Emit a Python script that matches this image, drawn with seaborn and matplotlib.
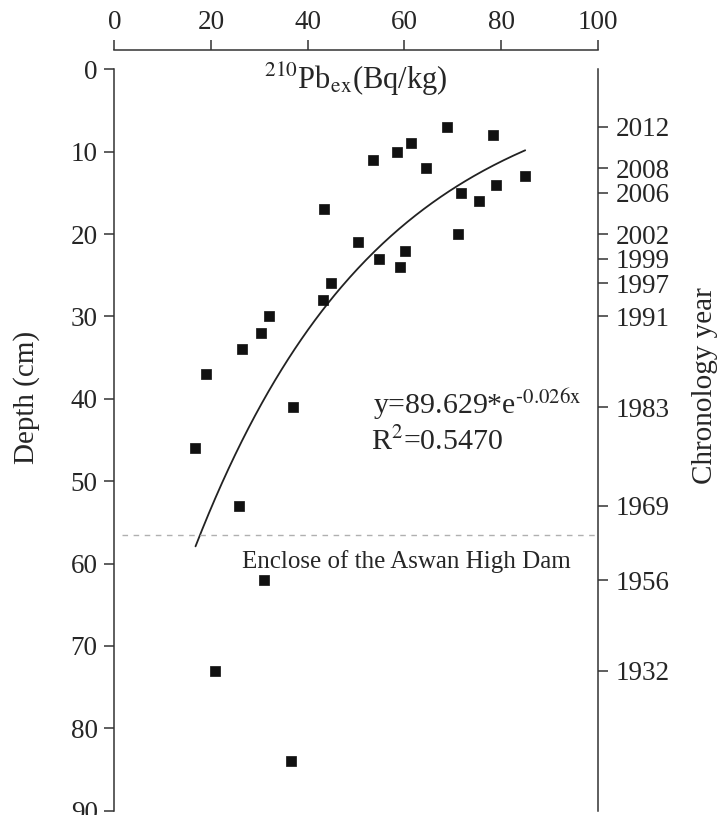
import numpy as np
import pandas as pd
import seaborn as sns
import matplotlib.pyplot as plt

sns.set_style('white')
plt.rcParams['font.family'] = ['Liberation Serif', 'DejaVu Serif']
plt.rcParams['mathtext.fontset'] = 'stix'

# 210Pb_ex activity (Bq/kg) and depth (cm)
pb_ex = [68.9, 78.3, 61.4, 58.5, 53.6, 64.5, 84.9, 79.0, 71.7, 75.5, 43.4, 71.2, 50.4, 60.2,
         54.7, 59.0, 44.9, 43.2, 31.9, 30.3, 26.5, 19.0, 36.9, 16.6, 25.8, 30.9, 20.9, 36.5]
depth = [7, 8, 9, 10, 11, 12, 13, 14, 15, 16, 17, 20, 21, 22,
         23, 24, 26, 28, 30, 32, 34, 37, 41, 46, 53, 62, 73, 84]

# exponential fit shown on the chart
fit_a = 89.629
fit_b = -0.026
fit_xmin, fit_xmax = 16.8, 85.0

# chronology on right axis
year_depth = [7, 12, 15, 20, 23, 26, 30, 41, 53, 62, 73]
year_label = ['2012', '2008', '2006', '2002', '1999', '1997', '1991', '1983', '1969', '1956', '1932']

dam_depth = 56.5

df = pd.DataFrame({'pb': pb_ex, 'depth': depth})
fx = np.linspace(fit_xmin, fit_xmax, 200)
fit = pd.DataFrame({'pb': fx, 'depth': fit_a * np.exp(fit_b * fx)})

fig = plt.figure(figsize=(7.22, 8.15), dpi=100)
ax = fig.add_axes([114.3/722, 1-810.7/815, (597.7-114.3)/722, (810.7-69.3)/815])

sns.lineplot(data=fit, x='pb', y='depth', color='#222222', lw=1.3, sort=False, ax=ax)
sns.scatterplot(data=df, x='pb', y='depth', marker='s', s=48, color='#111111',
                edgecolor='#111111', linewidth=0.5, ax=ax, zorder=3)
ax.axhline(dam_depth, xmin=0.015, xmax=1, color='#b0b0b0', lw=1.0, ls=(0, (4, 4)))

ax.set_xlim(0, 100)
ax.set_ylim(90, 0)
ax.set_xticks(range(0, 101, 20))
ax.set_yticks(range(0, 91, 10))
ax.set_xlabel('')
ax.set_ylabel('Depth (cm)', fontsize=21)
ax.yaxis.set_label_coords(-0.154, 0.557)

ax.xaxis.set_ticks_position('top')
ax.spines['top'].set_position(('outward', 14))
ax.spines['bottom'].set_visible(False)
ax.spines['right'].set_visible(False)
for s in ['top', 'left']:
    ax.spines[s].set_color('#333333')
    ax.spines[s].set_linewidth(1.1)
ax.tick_params(axis='x', direction='out', length=7, width=1.1, color='#333333',
               labelsize=19.5, pad=3.5, top=True, bottom=False)
ax.tick_params(axis='y', direction='out', length=7, width=1.1, color='#333333',
               labelsize=19.5, pad=5, left=True)

ax.text(50, 2.4, r'$^{210}$Pb$_{\mathrm{ex}}$(Bq/kg)', fontsize=22, ha='center', va='baseline')
ax.text(53.5, 40.7, r'y=89.629*e$^{\text{-0.026x}}$', fontsize=21.5, ha='left', va='center')
ax.text(53.0, 45.2, r'R$^{2}$=0.5470', fontsize=21.5, ha='left', va='center')
ax.text(26.5, 59.8, 'Enclose of the Aswan High Dam', fontsize=18, ha='left', va='center')

ax2 = ax.twinx()
ax2.set_ylim(90, 0)
ax2.set_yticks(year_depth)
ax2.set_yticklabels(year_label)
for s in ['top', 'bottom', 'left']:
    ax2.spines[s].set_visible(False)
ax2.spines['right'].set_color('#333333')
ax2.spines['right'].set_linewidth(1.1)
ax2.tick_params(axis='y', direction='out', length=7, width=1.1, color='#333333',
                labelsize=19.5, pad=6)
ax2.set_ylabel('Chronology year', fontsize=21)
ax2.yaxis.set_label_coords(1.195, 0.574)

fig.savefig('out.png', dpi=100)
